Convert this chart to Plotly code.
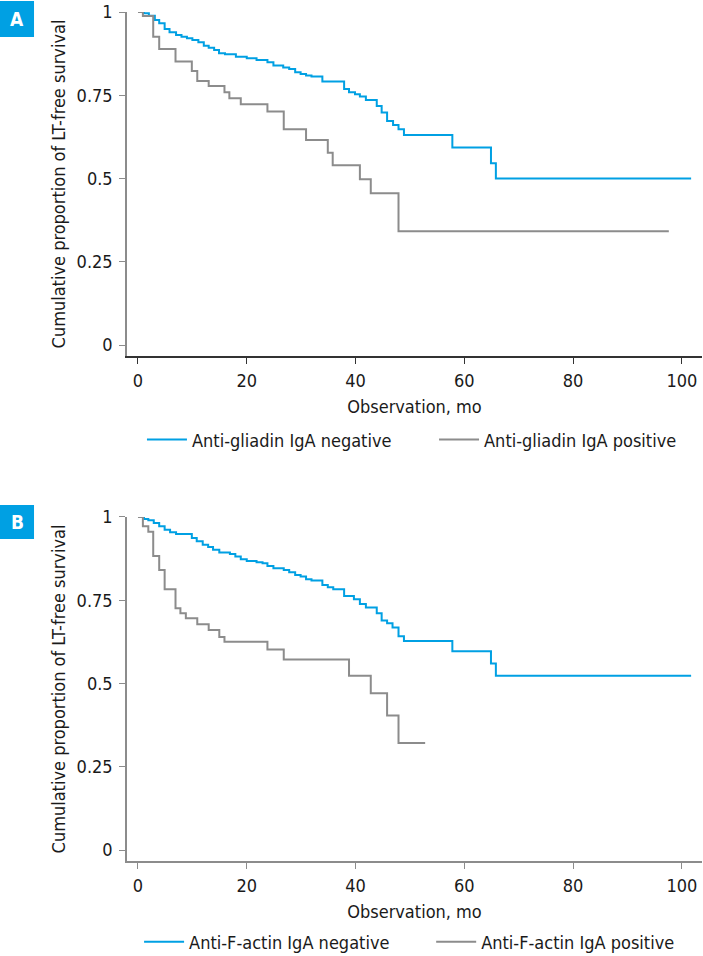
import plotly.graph_objects as go

# ---------------- Data ----------------
# Panel A: anti-gliadin IgA
a_neg_t = [0, 1.1, 2.0, 3.1, 3.9, 4.9, 5.8, 7.0, 8.0, 9.0, 10.0, 11.1, 12.1, 13.0,
           14.0, 14.9, 16.0, 18.0, 20.0, 21.8, 23.8, 24.9, 26.7, 27.8, 28.9, 29.9,
           30.9, 31.9, 33.9, 37.9, 38.8, 39.9, 40.8, 41.9, 43.9, 44.8, 45.8, 46.9,
           47.9, 48.9, 57.8, 64.9, 65.8, 101.7]
a_neg_s = [1.0, 0.996, 0.989, 0.976, 0.966, 0.949, 0.939, 0.931, 0.926, 0.921, 0.916,
           0.909, 0.899, 0.893, 0.886, 0.876, 0.873, 0.866, 0.861, 0.856, 0.849, 0.839,
           0.833, 0.829, 0.819, 0.814, 0.809, 0.806, 0.791, 0.769, 0.759, 0.753, 0.746,
           0.736, 0.718, 0.698, 0.673, 0.661, 0.648, 0.631, 0.593, 0.546, 0.500, 0.500]

a_pos_t = [0, 0.9, 2.8, 3.9, 6.9, 9.9, 10.9, 13.0, 15.9, 16.8, 18.9, 23.8, 26.8,
           30.9, 34.9, 35.8, 40.8, 42.8, 47.9, 97.6]
a_pos_s = [1.0, 0.988, 0.926, 0.889, 0.851, 0.823, 0.793, 0.778, 0.759, 0.741, 0.723,
           0.701, 0.648, 0.616, 0.577, 0.540, 0.498, 0.456, 0.342, 0.342]

# Panel B: anti-F-actin IgA
b_neg_t = [0, 1.1, 1.9, 2.9, 3.9, 4.9, 5.9, 7.0, 9.9, 10.8, 11.9, 12.9, 13.8, 14.95,
           16.9, 17.9, 18.9, 20.0, 21.8, 22.9, 23.8, 24.9, 26.8, 27.8, 28.9, 29.9,
           30.9, 31.9, 33.9, 34.9, 35.9, 37.9, 39.7, 40.8, 41.9, 43.9, 44.8, 45.8,
           46.8, 47.9, 48.9, 57.8, 64.9, 65.8, 101.7]
b_neg_s = [1.0, 0.994, 0.990, 0.982, 0.972, 0.962, 0.954, 0.949, 0.937, 0.927, 0.917,
           0.910, 0.902, 0.893, 0.889, 0.881, 0.873, 0.868, 0.864, 0.861, 0.853, 0.846,
           0.841, 0.834, 0.826, 0.821, 0.813, 0.809, 0.796, 0.789, 0.783, 0.763, 0.753,
           0.739, 0.728, 0.711, 0.689, 0.681, 0.668, 0.642, 0.628, 0.597, 0.560, 0.523,
           0.523]

b_pos_t = [0, 0.9, 1.9, 2.8, 3.9, 4.9, 6.9, 7.8, 8.8, 10.9, 13.0, 14.95, 15.9, 23.8,
           26.8, 38.8, 42.8, 45.8, 47.9, 52.8]
b_pos_s = [1.0, 0.972, 0.956, 0.883, 0.841, 0.783, 0.726, 0.711, 0.696, 0.678, 0.661,
           0.640, 0.625, 0.602, 0.572, 0.523, 0.471, 0.404, 0.321, 0.321]

x_ticks = [0, 20, 40, 60, 80, 100]
y_ticks = [0, 0.25, 0.5, 0.75, 1]
y_tick_labels = ["0", "0.25", "0.5", "0.75", "1"]

names_a = ["Anti-gliadin IgA negative", "Anti-gliadin IgA positive"]
names_b = ["Anti-F-actin IgA negative", "Anti-F-actin IgA positive"]
panel_labels = ["A", "B"]
x_title = "Observation, mo"
y_title = "Cumulative proportion of LT-free survival"

# ---------------- Styling ----------------
BLUE = "#00A0E3"
GRAY = "#8C8C8C"
TXT = "#1a1a1a"
FONT = "Liberation Sans Narrow, Arial Narrow, DejaVu Sans Condensed, Roboto Condensed, sans-serif"
FS = 18

fig = go.Figure()

def add(t, s, name, color, xa, ya, leg):
    fig.add_trace(go.Scatter(
        x=t, y=s, mode="lines", name=name, line=dict(color=color, width=2, shape="hv"),
        xaxis=xa, yaxis=ya, legend=leg, cliponaxis=False, hoverinfo="skip"))

add(a_neg_t, a_neg_s, names_a[0], BLUE, "x", "y", "legend")
add(a_pos_t, a_pos_s, names_a[1], GRAY, "x", "y", "legend2")
add(b_neg_t, b_neg_s, names_b[0], BLUE, "x2", "y2", "legend3")
add(b_pos_t, b_pos_s, names_b[1], GRAY, "x2", "y2", "legend4")

xrange = [-2.02, 103.7]
yrange = [-0.033, 1.0]

def xaxis(anchor, lc):
    return dict(domain=[0, 1], anchor=anchor, range=xrange, tickvals=x_ticks,
                ticks="outside", ticklen=6, tickcolor=lc, showline=True, linecolor=lc,
                linewidth=1.5, showgrid=False, zeroline=False, ticklabelstandoff=2,
                tickfont=dict(size=FS, color=TXT),
                title=dict(text=x_title, font=dict(size=FS, color=TXT), standoff=10))

def yaxis(anchor, dom):
    return dict(domain=dom, anchor=anchor, range=yrange, tickvals=y_ticks,
                ticktext=y_tick_labels, ticks="outside", ticklen=6, tickcolor=GRAY,
                showline=True, linecolor=GRAY, linewidth=1.5, showgrid=False,
                zeroline=False, ticklabelstandoff=3, tickfont=dict(size=FS, color=TXT),
                title=dict(text=y_title, font=dict(size=FS, color=TXT), standoff=6))

leg_common = dict(orientation="h", xanchor="left", yanchor="middle", itemwidth=40,
                  font=dict(size=FS, color=TXT, family=FONT),
                  bgcolor="rgba(0,0,0,0)")

fig.update_layout(
    width=703, height=956,
    margin=dict(l=127, r=1, t=12, b=95, autoexpand=False),
    paper_bgcolor="white", plot_bgcolor="white",
    font=dict(family=FONT, size=FS, color=TXT),
    xaxis=xaxis("y", "#333"),
    yaxis=yaxis("x", [0.5948, 1.0]),
    xaxis2=xaxis("y2", GRAY),
    yaxis2=yaxis("x2", [0.0, 0.4052]),
    legend=dict(x=0.026, y=0.496, **leg_common),
    legend2=dict(x=0.534, y=0.496, **leg_common),
    legend3=dict(x=0.021, y=-0.0954, **leg_common),
    legend4=dict(x=0.529, y=-0.0954, **leg_common),
    showlegend=True,
)

# panel letter boxes
for lab, (y0, y1) in zip(panel_labels, [(0.9705, 1.013), (0.3793, 0.4193)]):
    fig.add_shape(type="rect", xref="paper", yref="paper", x0=-0.2209, x1=-0.1617,
                  y0=y0, y1=y1, fillcolor=BLUE, line=dict(width=0), layer="above")
    fig.add_annotation(text="<b>%s</b>" % lab, xref="paper", yref="paper",
                       x=-0.1913, y=(y0 + y1) / 2, showarrow=False,
                       font=dict(size=19, color="white", family=FONT),
                       xanchor="center", yanchor="middle")

fig.write_html("out.html")
